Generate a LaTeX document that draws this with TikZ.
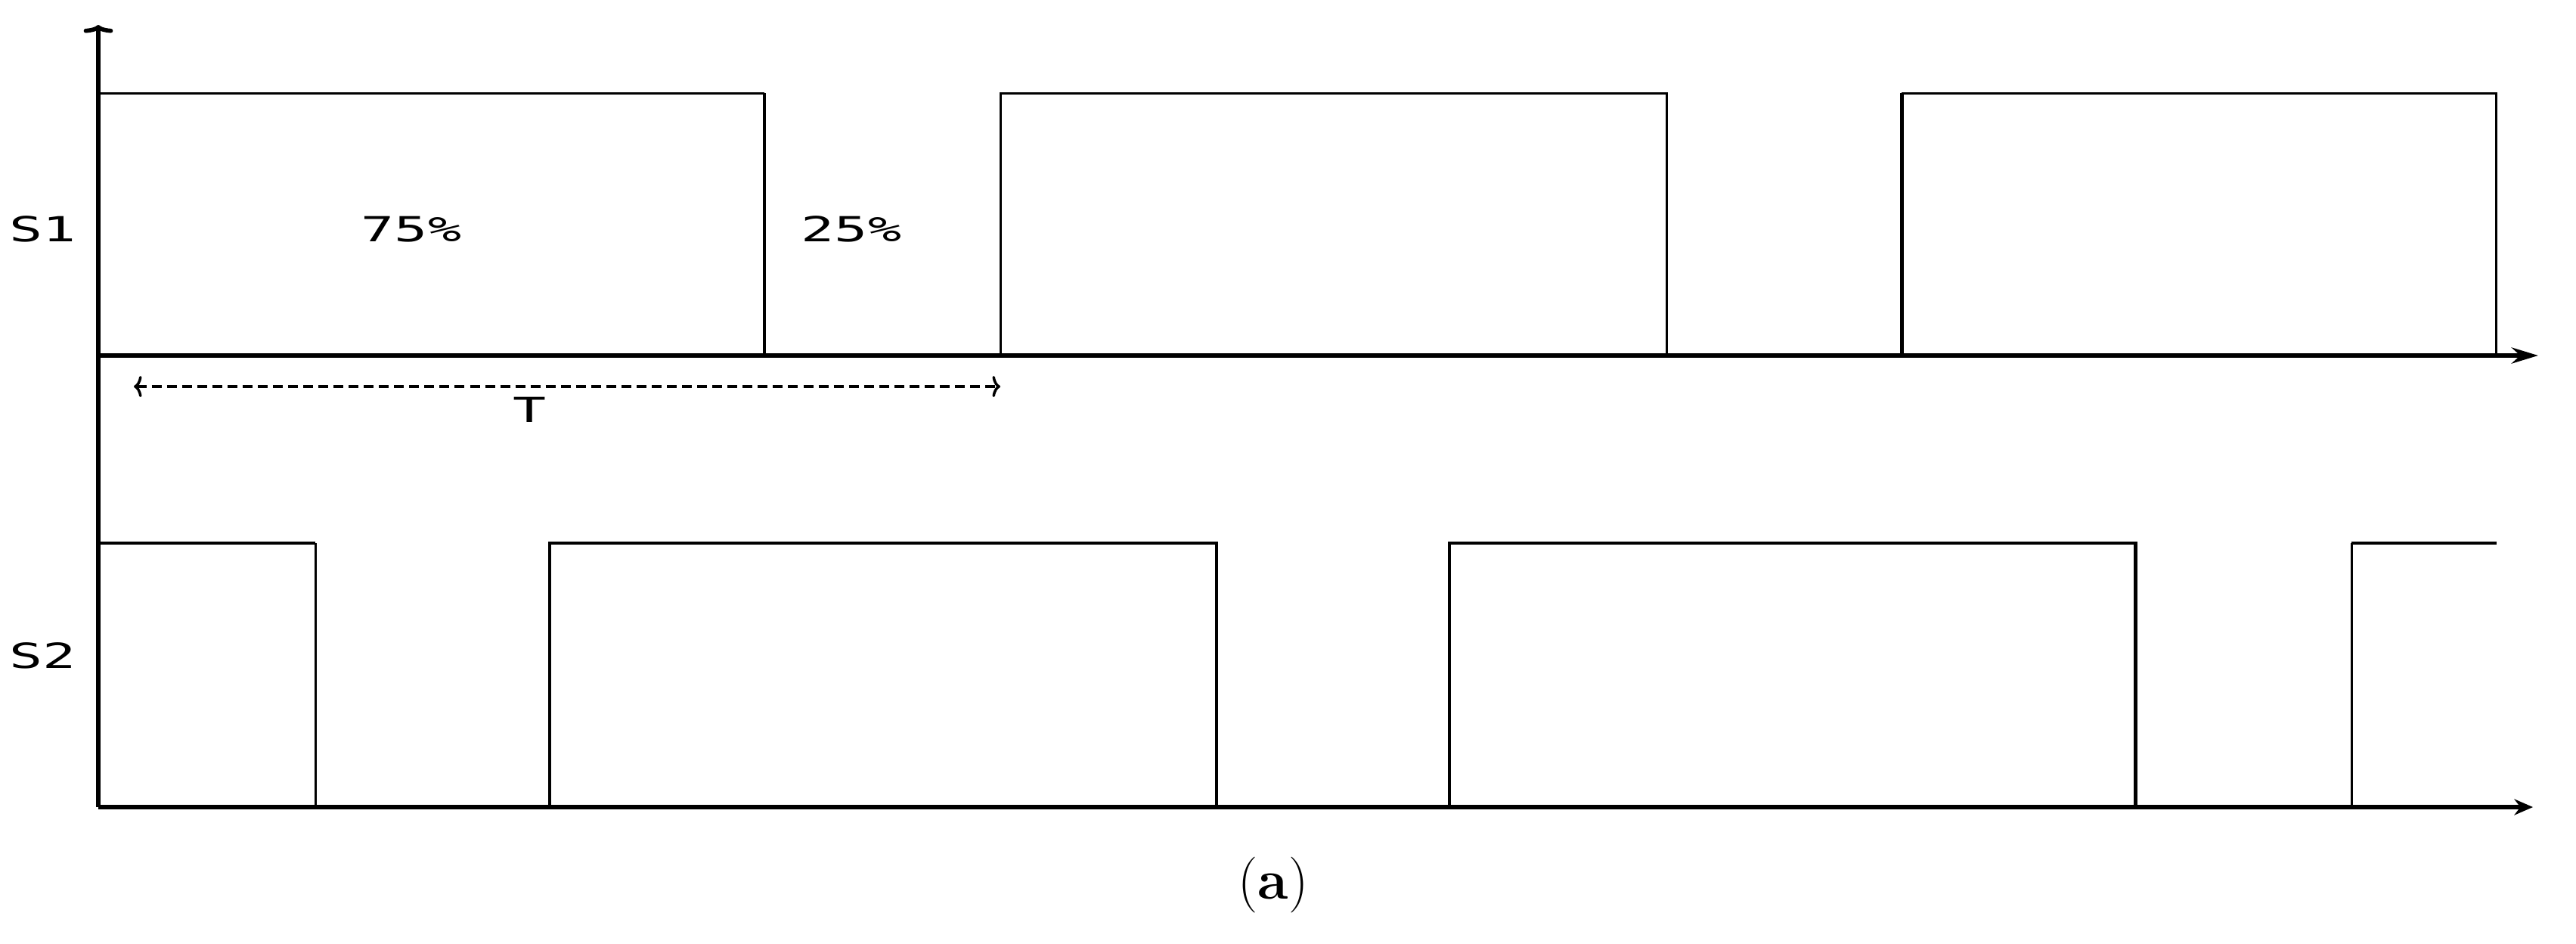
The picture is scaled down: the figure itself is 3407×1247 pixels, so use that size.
\documentclass[tikz,border=0pt]{standalone}
\usepackage{fontspec}
\usepackage{graphicx}
\newfontfamily\wavefont{DejaVu Sans Mono}
\usetikzlibrary{arrows.meta,calc}
\tikzset{
  axis/.style={line width=1.6pt},
  hi/.style={line width=0.85pt},
  hithick/.style={line width=1.4pt},
  lbl/.style={font=\wavefont\fontsize{13}{15}\selectfont,inner sep=0pt},
  period/.style={{To[length=3pt,width=8pt]}-{To[length=3pt,width=8pt]},
    line width=1pt,dash pattern=on 3.7pt off 2pt},
}
\newcommand{\wide}[1]{\scalebox{1.6}[1]{#1}}

\begin{document}
\begin{tikzpicture}[x=0.01cm,y=-0.01cm]
  \useasboundingbox (0,0) rectangle (3407,1247);

  \coordinate (ytop)  at (130,33);
  \coordinate (o1)    at (130,470);
  \coordinate (o2)    at (130,1067);
  \coordinate (x1end) at (3357,470);
  \coordinate (x2end) at (3350,1067);

  % axes
  \draw[axis,-{To[length=3pt,width=11pt]}] (o2) -- (ytop);
  \draw[axis,-{Stealth[length=10pt,width=6pt]}] (o1) -- (x1end);
  \draw[axis,-{Stealth[length=7pt,width=6pt]}] (o2) -- (x2end);

  % S1 pulses
  \draw[hi] (130,123) -- (1011,123);
  \draw[hithick] (1011,123) -- (1011,470);
  \draw[hi] (1323,470) |- (2204,123) -- (2204,470);
  \draw[hithick] (2515,470) -- (2515,123);
  \draw[hi] (2515,123) -- (3301,123) -- (3301,470);

  % S2 pulses, half a period later
  \draw[hithick] (130,718) -- (417,718);
  \draw[hi] (417,718) -- (417,1067);
  \foreach \a/\b in {727/1609,1917/2824}
    \draw[hithick] (\a,1067) |- (\b,718) -- (\b,1067);
  \draw[hi] (3110,1067) -- (3110,718);
  \draw[hithick] (3110,718) -- (3302,718);

  \node[lbl] (s1)   at (57,303)   {\wide{S1}};
  \node[lbl] (s2)   at (57,867)   {\wide{S2}};
  \node[lbl] (duty) at (544,303)  {\wide{75\%}};
  \node[lbl] (rest) at (1126,303) {\wide{25\%}};

  % one period
  \coordinate (ta) at (177,511);
  \coordinate (tb) at (1323,511);
  \draw[period] (ta) -- (tb);
  \node[lbl] (per) at (701,542) {\wide{T}};

  \node[font=\fontsize{21}{25}\selectfont] (cap) at (1684,1170) {(\textbf{a})};
\end{tikzpicture}
\end{document}
